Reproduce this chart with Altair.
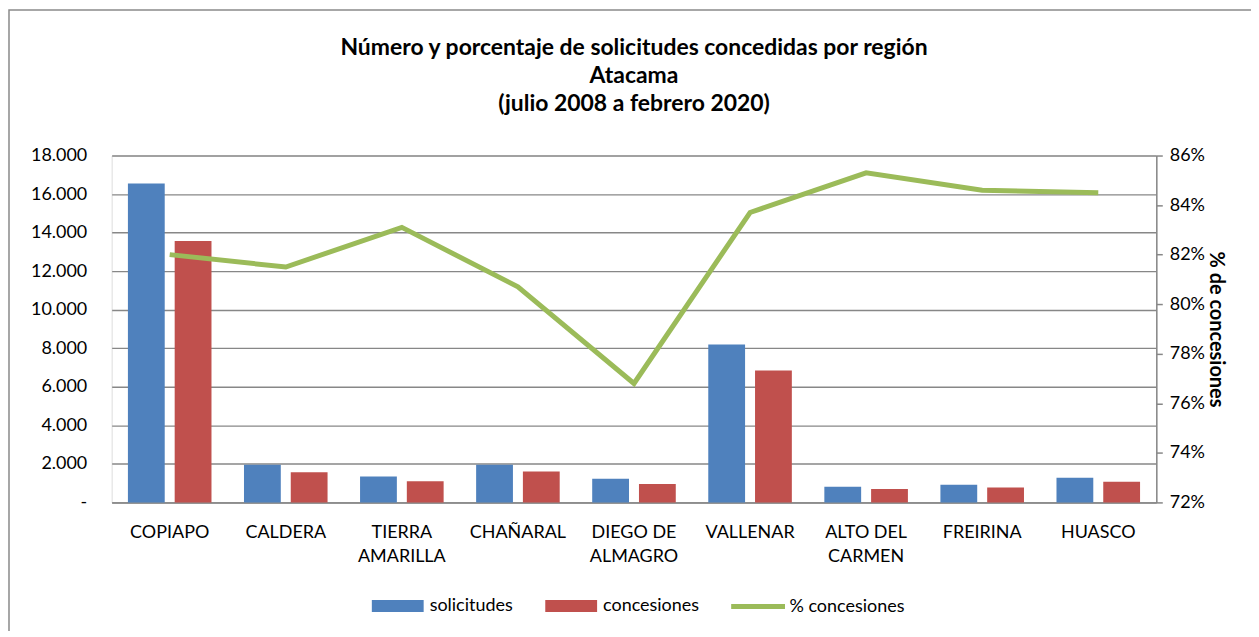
import json
import altair as alt
import pandas as pd

# ---------------- data ----------------
categories = ["COPIAPO", "CALDERA", "TIERRA AMARILLA", "CHAÑARAL", "DIEGO DE ALMAGRO",
              "VALLENAR", "ALTO DEL CARMEN", "FREIRINA", "HUASCO"]
x_label_lines = ["COPIAPO", "CALDERA", "TIERRA|AMARILLA", "CHAÑARAL", "DIEGO DE|ALMAGRO",
                 "VALLENAR", "ALTO DEL|CARMEN", "FREIRINA", "HUASCO"]
solicitudes = [16550, 1950, 1340, 1960, 1230, 8200, 810, 920, 1280]
concesiones = [13570, 1570, 1100, 1600, 950, 6850, 690, 780, 1070]
pct_concesiones = [0.820, 0.815, 0.831, 0.807, 0.768, 0.837, 0.853, 0.846, 0.845]

series_bars = ["solicitudes", "concesiones"]
series_line = ["% concesiones"]
left_ticks = [0, 2000, 4000, 6000, 8000, 10000, 12000, 14000, 16000, 18000]
right_ticks = [0.72, 0.74, 0.76, 0.78, 0.80, 0.82, 0.84, 0.86]
title_lines = ["Número y porcentaje de solicitudes concedidas por región",
               "Atacama",
               "(julio 2008 a febrero 2020)"]

bars_df = pd.DataFrame({
    "region": categories + categories,
    "serie": [series_bars[0]] * len(categories) + [series_bars[1]] * len(categories),
    "valor": solicitudes + concesiones,
})
line_df = pd.DataFrame({
    "region": categories,
    "serie": series_line * len(categories),
    "pct": pct_concesiones,
})

W, H = 1048, 348
FONT = "Lato"
GRAY = "#878787"
FS = 18

x_label_expr = "split({}[indexof({}, datum.label)], '|')".format(
    json.dumps(x_label_lines, ensure_ascii=False), json.dumps(categories, ensure_ascii=False))

x_scale = alt.Scale(domain=categories, paddingInner=0.28, paddingOuter=0.14)
x_axis = alt.Axis(title=None, labelExpr=x_label_expr, labelAngle=0, ticks=False,
                  domainColor=GRAY, domainWidth=1.5, labelPadding=21, labelFontSize=FS,
                  labelLineHeight=24, labelColor="black", labelFont=FONT, labelLimit=200)

frame = alt.Chart(pd.DataFrame({"k": [0]})).mark_rect(
    fill="transparent", stroke="#8a8a8a", strokeWidth=1.5
).encode(
    x=alt.value(-103), x2=alt.value(W + 160), y=alt.value(-146), y2=alt.value(H + 200)
)

bars = alt.Chart(bars_df).mark_bar().encode(
    x=alt.X("region:N", sort=categories, scale=x_scale, axis=x_axis),
    xOffset=alt.XOffset("serie:N", sort=series_bars,
                        scale=alt.Scale(domain=series_bars, paddingInner=0.213, paddingOuter=0)),
    y=alt.Y("valor:Q", scale=alt.Scale(domain=[0, 18000], nice=False),
            axis=alt.Axis(values=left_ticks, title=None, domain=False, ticks=False, grid=True,
                          gridColor=GRAY, gridWidth=1.4, labelPadding=25, labelFontSize=FS,
                          labelFont=FONT, labelColor="black",
                          labelExpr="datum.value == 0 ? '-' : replace(format(datum.value, ',.0f'), ',', '.')")),
    fill=alt.Fill("serie:N", sort=series_bars,
                  scale=alt.Scale(domain=series_bars, range=["#4F81BD", "#C0504D"]),
                  legend=alt.Legend(title=None, orient="none", legendX=261, legendY=442,
                                    direction="horizontal", symbolType="M-1,-0.6H4.2V0.6H-1Z",
                                    symbolSize=400, symbolStrokeWidth=0, labelOffset=38,
                                    columnPadding=32, labelFontSize=FS, labelFont=FONT,
                                    labelColor="black", padding=0)),
)

line = alt.Chart(line_df).mark_line(strokeWidth=5).encode(
    x=alt.X("region:N", sort=categories, scale=x_scale, axis=x_axis),
    y=alt.Y("pct:Q", scale=alt.Scale(domain=[0.72, 0.86], nice=False, zero=False),
            axis=alt.Axis(orient="right", values=right_ticks, format=".0%",
                          title="% de concesiones", grid=False, domainColor=GRAY,
                          domainWidth=1.5, tickColor=GRAY, tickWidth=1.5, tickSize=6,
                          labelPadding=7, labelFontSize=FS, labelFont=FONT, labelColor="black",
                          titleFontSize=20, titleFont=FONT, titleFontWeight="bold",
                          titleColor="black", titlePadding=1)),
    stroke=alt.Stroke("serie:N", scale=alt.Scale(domain=series_line, range=["#9BBB59"]),
                      legend=alt.Legend(title=None, orient="none", legendX=619, legendY=440,
                                        direction="horizontal", symbolType="M-1,0H4.4",
                                        symbolSize=400, symbolStrokeWidth=5, labelOffset=36,
                                        labelFontSize=FS, labelFont=FONT, labelColor="black",
                                        padding=0)),
)

chart = alt.layer(frame, bars, line).resolve_scale(
    y="independent"
).properties(
    width=W, height=H,
    title=alt.TitleParams(text=title_lines, fontSize=23, fontWeight="bold", font=FONT,
                          color="black", lineHeight=28, anchor="middle", offset=-107),
    autosize=alt.AutoSizeParams(type="none"),
    padding={"left": 104, "top": 147, "right": 95, "bottom": 128},
).configure_view(stroke=None).configure(background="white")

chart.save("out.html", embed_options={"renderer": "svg", "actions": False})
